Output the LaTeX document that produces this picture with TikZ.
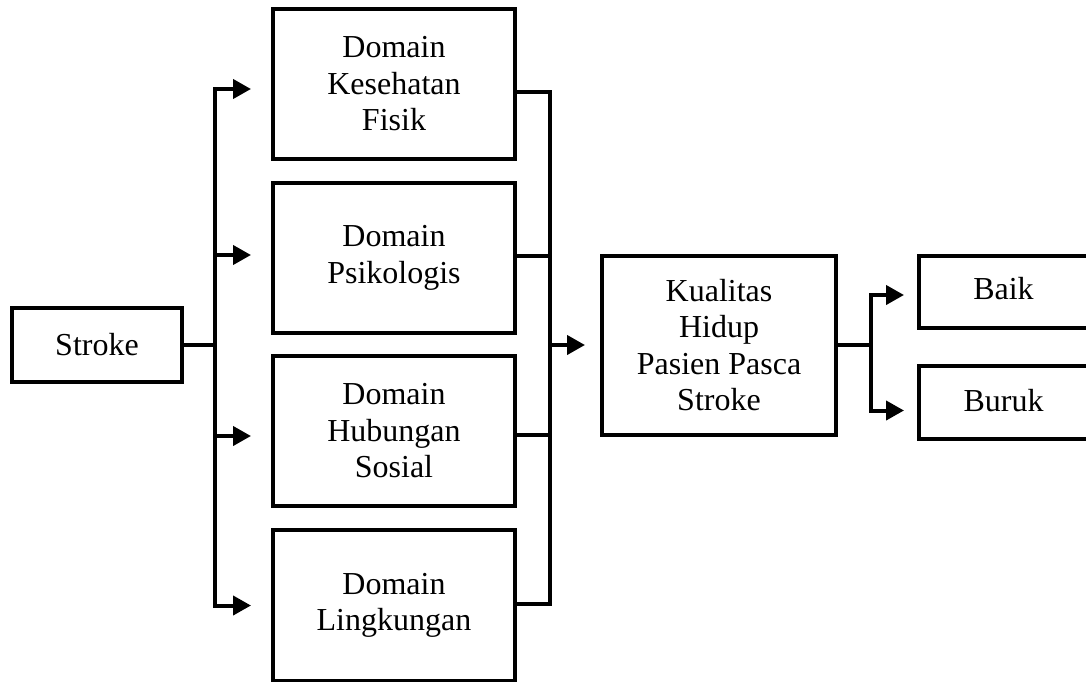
\documentclass[tikz,border=0pt]{standalone}
\usepackage{fontspec}
\setmainfont{Liberation Serif}
\usetikzlibrary{arrows.meta,positioning}

\begin{document}
\begin{tikzpicture}[
    x=1pt, y=-1pt,
    block/.style={rectangle, draw, line width=4pt, minimum width=242pt, minimum height=150pt, align=center, inner sep=0pt, font=\fontsize{32}{36.5}\selectfont},
    line/.style={line width=4pt},
    arrow/.style={line width=4pt, -{Triangle[length=18pt,width=19pt]}}
]
    \useasboundingbox (0,0) rectangle (1086,682);

    % kotak-kotak
    \node[block, minimum width=170pt, minimum height=74pt] (stroke) at (97,345) {Stroke};

    \node[block] (fisik) at (394,84) {Domain\\Kesehatan\\Fisik};
    \node[block] (psiko) at (394,258) {Domain\\Psikologis};
    \node[block] (sosial) at (394,431) {Domain\\Hubungan\\Sosial};
    \node[block, minimum height=151pt] (lingk) at (394,605.5) {Domain\\Lingkungan};

    \node[block, minimum width=234pt, minimum height=179pt] (kualitas) at (719,345) {Kualitas\\Hidup\\Pasien Pasca\\Stroke};

    \node[block, minimum width=169pt, minimum height=72pt] (baik) at (1003.5,292) {\raisebox{7pt}{Baik}};
    \node[block, minimum width=169pt, minimum height=73pt] (buruk) at (1003.5,402.5) {\raisebox{5pt}{Buruk}};

    % titik cabang
    \coordinate (split) at (215,345);
    \coordinate (merge) at (550,345);
    \coordinate (fork) at (871,345);

    % dari stroke ke domain
    \draw[line] (stroke.east) -- (split);
    \draw[arrow, shorten >=20pt] (split) |- ([yshift=-5pt]fisik.west);
    \draw[arrow, shorten >=20pt] (split) |- ([yshift=3pt]psiko.west);
    \draw[arrow, shorten >=20pt] (split) |- ([yshift=-5pt]sosial.west);
    \draw[arrow, shorten >=20pt] (split) |- (lingk.west);

    % dari domain ke kualitas hidup
    \draw[line] ([yshift=-8pt]fisik.east) -| (merge);
    \draw[line] ([yshift=2pt]psiko.east) -| (merge);
    \draw[line] ([yshift=-4pt]sosial.east) -| (merge);
    \draw[line] ([yshift=2pt]lingk.east) -| (merge);
    \draw[arrow, shorten >=15pt] (merge) -- (kualitas.west);

    % hasil
    \draw[line] (kualitas.east) -- (fork);
    \draw[arrow, shorten >=13pt] (fork) |- ([yshift=-3pt]baik.west);
    \draw[arrow, shorten >=13pt] (fork) |- ([yshift=-8pt]buruk.west);
\end{tikzpicture}
\end{document}
